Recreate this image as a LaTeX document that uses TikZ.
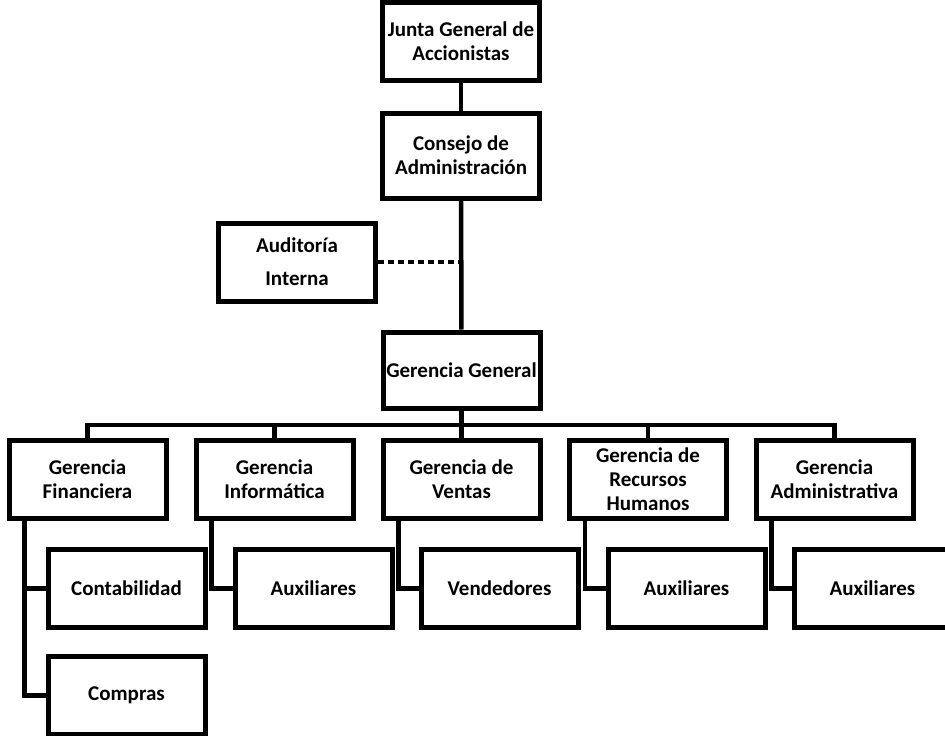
\documentclass[tikz,border=0pt]{standalone}
\usepackage{fontspec}
\setmainfont{Carlito}
\usepackage{tikz}
\usetikzlibrary{positioning,shapes}

\begin{document}
\begin{tikzpicture}[x=1pt, y=-1pt,
			line width=4.5pt,
			every node/.style = {shape=rectangle,
				draw, line width=5pt, align=center,
				font=\fontsize{21}{24}\selectfont\bfseries,
				inner sep=0pt, minimum width=157, minimum height=78},
			enlace/.style = {line width=4.5pt},
			punteado/.style = {line width=4.5pt, dash pattern=on 6pt off 4pt}]
			\useasboundingbox (0,0) rectangle (945,736);
			% direccion
			\node (junta) at (461,41.5) {Junta General de\\Accionistas};
			\node[minimum height=85] (consejo) at (461,155.5) {Consejo de\\Administraci\'on};
			\node (auditoria) at (297,262) {Auditor\'ia\\[9pt]Interna};
			\node[minimum height=76] (general) at (461.5,370) {Gerencia General};
			% gerencias
			\node (financiera) at (87.5,479) {Gerencia\\Financiera};
			\node (informatica) at (274.5,479) {Gerencia\\Inform\'atica};
			\node (ventas) at (461.5,479) {Gerencia de\\Ventas};
			\node (rrhh) at (648,479) {Gerencia de\\Recursos\\Humanos};
			\node (administrativa) at (834.5,479) {Gerencia\\Administrativa};
			% dependencias
			\node (contabilidad) at (126.5,588.5) {Contabilidad};
			\node (compras) at (126.5,695.5) {Compras};
			\node (auxinf) at (313.5,588.5) {Auxiliares};
			\node (vendedores) at (499.5,588.5) {Vendedores};
			\node (auxrrhh) at (686.5,588.5) {Auxiliares};
			\node (auxadm) at (872.5,588.5) {Auxiliares};
			\coordinate (bus) at (0,425);

			\draw[enlace] (junta) -- (consejo);
			\draw[enlace] (consejo) -- (general);
			\draw[punteado] (auditoria.east) -- (auditoria.east -| general.north);
			\draw[enlace] (general.south) -- (general.south |- bus);
			\draw[enlace] (financiera.north) |- (administrativa.north |- bus) -- (administrativa.north);
			\foreach \g in {informatica,ventas,rrhh}
				\draw[enlace] (\g.north) -- (\g.north |- bus);
			\foreach \g/\d in {financiera/contabilidad,financiera/compras,informatica/auxinf,
				ventas/vendedores,rrhh/auxrrhh,administrativa/auxadm}
				\draw[enlace] ([xshift=18pt]\g.south west) |- (\d.west);
\end{tikzpicture}
\end{document}
